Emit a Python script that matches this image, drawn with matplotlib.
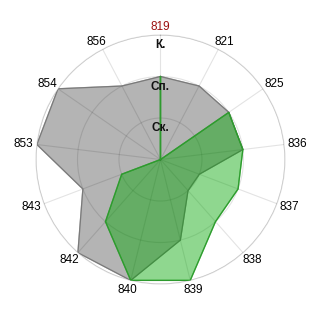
import numpy as np
import matplotlib
matplotlib.use('Agg')
import matplotlib.pyplot as plt

plt.rcParams['font.family'] = ['Liberation Sans', 'DejaVu Sans']

categories = ['819', '821', '825', '836', '837', '838', '839', '840', '842', '843', '853', '854', '856']
gray_vals = [2, 2, 2, 2, 1, 1, 2, 3, 3, 2, 3, 3, 2]
green_vals = [2, 0, 2, 2, 2, 2, 3, 3, 2, 1, 0, 0, 0]
level_ticks = [1, 2, 3]
level_labels = ['Ск.', 'Сп.', 'К.']

n = len(categories)
angles = np.arange(n) * 2 * np.pi / n
ang_closed = np.append(angles, angles[0])

fig = plt.figure(figsize=(3.2, 3.2), dpi=100)
ax = fig.add_axes([0.1125, 0.1125, 0.778, 0.778], projection='polar')
ax.set_theta_zero_location('N')
ax.set_theta_direction(-1)
ax.set_ylim(0, 3)

g = np.append(gray_vals, gray_vals[0])
ax.fill(ang_closed, g, color='#b4b4b4', zorder=2)
ax.plot(ang_closed, g, color='#7a7a7a', lw=0.9, zorder=3)

gr = np.append(green_vals, green_vals[0])
ax.fill(ang_closed, gr, color='#00a500', alpha=0.44, zorder=4)
ax.plot(ang_closed, gr, color='#2e9a2e', lw=0.9, zorder=5)

ax.set_axisbelow(False)
ax.grid(True, color='black', alpha=0.11, lw=0.8, zorder=6)
ax.spines['polar'].set_color('#dcdcdc')
ax.spines['polar'].set_linewidth(0.8)

ax.set_yticks(level_ticks)
ax.set_yticklabels([])
for t, lab in zip(level_ticks, level_labels):
    ax.text(0, t - 0.25, lab, ha='center', va='center', fontsize=8.5,
            fontweight='bold', color='#111111', zorder=7)

# category labels just outside the outer ring
ax.set_xticks(angles)
ax.set_xticklabels([])
w, gap = 10.0, 3.5  # half width / gap, px
for a, lab in zip(angles, categories):
    s, c = np.sin(a), np.cos(a)
    h = 4.5 if c > 0 else 6.5
    dx = (w * s + gap * s) * 0.72
    dy = (h * c + gap * c) * 0.72
    col = '#9b1010' if lab == '819' else 'black'
    ax.annotate(lab, xy=(a, 3), xytext=(dx, dy), textcoords='offset points',
                ha='center', va='center', fontsize=8.5, color=col,
                annotation_clip=False)

fig.savefig('out.png', dpi=100)
